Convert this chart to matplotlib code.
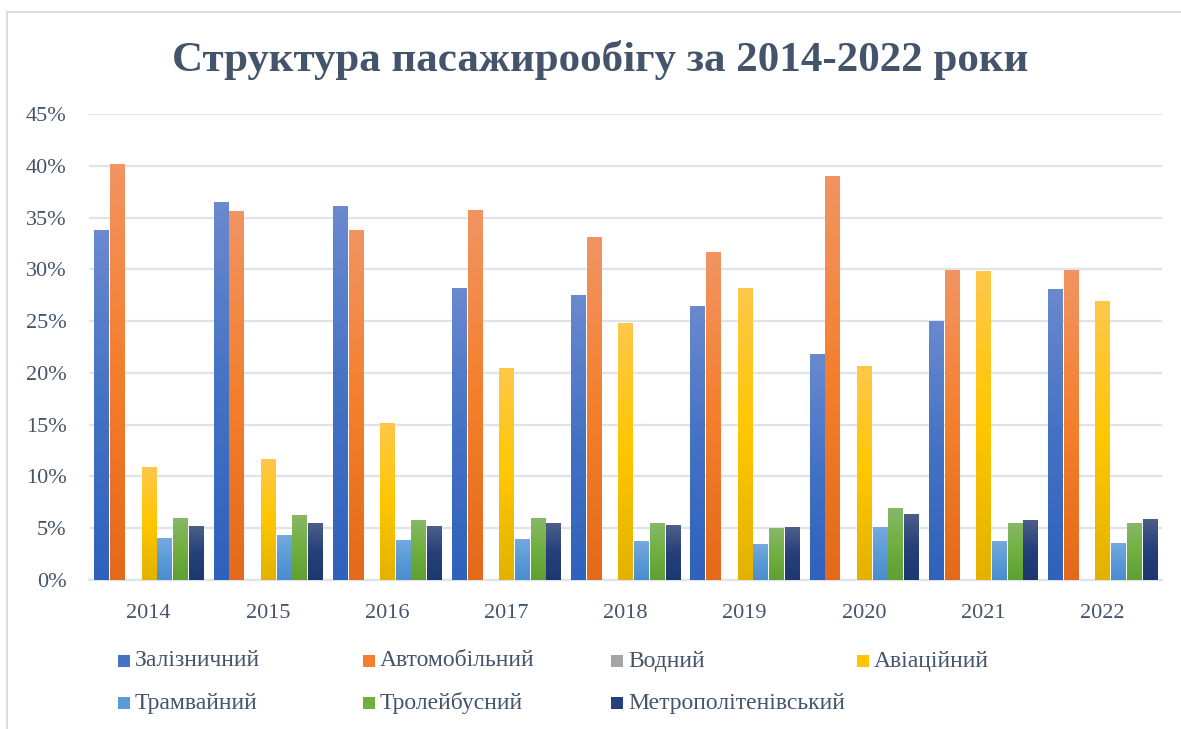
import numpy as np
import matplotlib.pyplot as plt
import matplotlib.colors as mcolors
from matplotlib.patches import Rectangle

years = ['2014', '2015', '2016', '2017', '2018', '2019', '2020', '2021', '2022']
series = ['Залізничний', 'Автомобільний', 'Водний', 'Авіаційний',
          'Трамвайний', 'Тролейбусний', 'Метрополітенівський']

rail = [33.8, 36.5, 36.1, 28.2, 27.5, 26.5, 21.8, 25.0, 28.1]
auto = [40.2, 35.6, 33.8, 35.7, 33.1, 31.7, 39.0, 29.9, 29.9]
water = [0.0, 0.0, 0.0, 0.0, 0.0, 0.0, 0.0, 0.0, 0.0]
air = [10.9, 11.7, 15.2, 20.5, 24.8, 28.2, 20.7, 29.8, 26.9]
tram = [4.05, 4.35, 3.9, 4.0, 3.8, 3.5, 5.1, 3.8, 3.6]
trolley = [6.0, 6.3, 5.8, 6.0, 5.5, 5.0, 7.0, 5.5, 5.5]
metro = [5.2, 5.5, 5.2, 5.5, 5.3, 5.1, 6.4, 5.8, 5.9]
values = [rail, auto, water, air, tram, trolley, metro]

# (top, middle, bottom) colours of Excel-like gradient fill
grads = [('#6a89cf', '#4472c4', '#2f62bd'),
         ('#f19462', '#f47f2c', '#e36a1a'),
         ('#b4b4b4', '#a5a5a5', '#959595'),
         ('#ffc84a', '#ffc600', '#e3b200'),
         ('#76aadf', '#5b9bd5', '#4a8dcf'),
         ('#88b868', '#70b040', '#5f9f33'),
         ('#4d5f88', '#25407a', '#1c386f')]

text_col = '#44546a'
plt.rcParams['font.family'] = ['Liberation Serif', 'DejaVu Serif']

fig = plt.figure(figsize=(11.81, 7.29), dpi=100)
ax = fig.add_axes([89 / 1181, 1 - 580 / 729, (1162 - 89) / 1181, (580 - 114) / 729])

x = np.arange(len(years))
w = 0.118
step = 0.132
for i, vals in enumerate(values):
    v = np.array(vals) / 100
    pos = x + (i - 3) * step
    bars = ax.bar(pos, v, width=w, color=grads[i][1], zorder=2)
    cmap = mcolors.LinearSegmentedColormap.from_list('g%d' % i, grads[i][::-1])
    grad = np.linspace(0, 1, 100).reshape(-1, 1)
    for b in bars:
        h = b.get_height()
        if h <= 0:
            continue
        bx = b.get_x()
        im = ax.imshow(grad, cmap=cmap, origin='lower', aspect='auto',
                       extent=[bx, bx + w, 0, h], zorder=3)
        im.set_clip_path(b)

ax.set_xlim(-0.5, len(years) - 0.5)
ax.set_ylim(0, 0.45)
ax.set_yticks(np.arange(0, 0.46, 0.05))
ax.set_yticklabels(['%d%%' % round(t * 100) for t in np.arange(0, 0.46, 0.05)])
ax.set_xticks(x)
ax.set_xticklabels(years)
ax.tick_params(length=0, labelsize=16, labelcolor=text_col)
ax.tick_params(axis='x', pad=17)
ax.tick_params(axis='y', pad=16)
ax.grid(axis='y', color='#dfe3ea', linewidth=1.6, zorder=0)
ax.set_axisbelow(True)
for s in ['top', 'right', 'left']:
    ax.spines[s].set_visible(False)
ax.spines['bottom'].set_color('#dfe3ea')
ax.spines['bottom'].set_linewidth(1.6)

fig.text(600 / 1181, 1 - 60 / 729, 'Структура пасажирообігу за 2014-2022 роки',
         ha='center', va='center', fontsize=31, fontweight='bold', color=text_col)

# legend laid out like the Excel one: 4 columns, 2 rows
leg_x = [118, 363, 611, 857]
leg_y = [661, 703]
for i, name in enumerate(series):
    cx = leg_x[i % 4]
    cy = leg_y[i // 4]
    fig.patches.append(Rectangle((cx / 1181, 1 - (cy + 6) / 729), 12 / 1181, 12 / 729,
                                 transform=fig.transFigure, facecolor=grads[i][1],
                                 edgecolor='none'))
    fig.text((cx + 17) / 1181, 1 - cy / 729, name, ha='left', va='center',
             fontsize=17, color=text_col)

# chart border
fig.patches.append(Rectangle((7 / 1181, -0.01), 1.2, 1 - 12 / 729 + 0.01,
                             transform=fig.transFigure, fill=False,
                             edgecolor='#d9dde3', linewidth=1.5))

fig.savefig('out.png', dpi=100)
